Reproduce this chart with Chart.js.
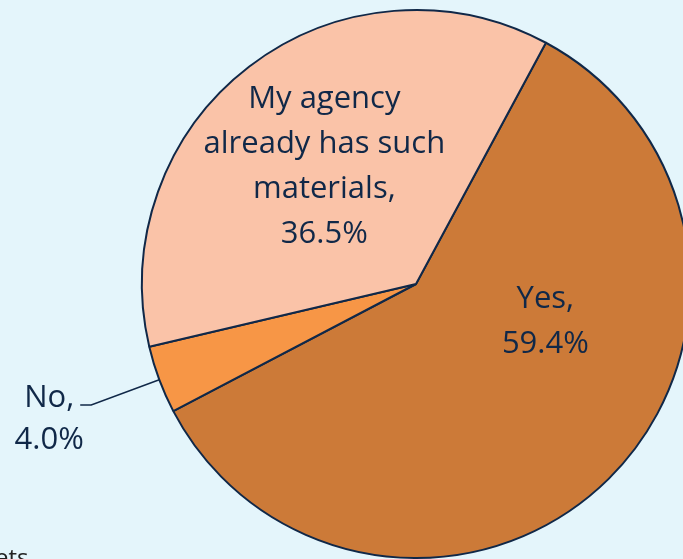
<!DOCTYPE html>
<html>
<head>
<meta charset="utf-8">
<script src="https://cdn.jsdelivr.net/npm/chart.js@4"></script>
<style>
    body {
        margin: 0;
        width: 683px;
        height: 559px;
        overflow: hidden;
        background: #e4f5fb;
        position: relative;
        font-family: 'Open Sans', sans-serif;
    }

    #pie-box {
        position: absolute;
        left: 0;
        top: 0;
        width: 691px;
        height: 559px;
    }

    #footnote {
        position: absolute;
        left: -5px;
        top: 540px;
        font-size: 24px;
        color: #222;
        white-space: nowrap;
    }
</style>
</head>
<body>
<div id="pie-box"><canvas id="pie" width="691" height="559"></canvas></div>
<div id="footnote">ets</div>

<script>
let categories = ['Yes', 'No', 'My agency already has such materials'];
let values = [59.4, 4.0, 36.5];
let labelLines = [['Yes,'], ['No,'], ['My agency', 'already has such', 'materials,']];
let sliceColors = ['#cc7a38', '#f79646', '#fac3a8'];

const navy = '#102848';
const labelFont = '31px "Open Sans"';
const lineGap = 45;
const capHeight = 22;

// where each slice label sits: angle shift from the slice middle (deg) and distance as part of the radius
let labelPlace = [
    { shift: -29.8, dist: 0.49 },
    { outside: true, elbow: 1.265 },
    { shift: 0, dist: 0.55 }
];

function drawLines(ctx, lines, cx, cy) {
    let first = cy + capHeight / 2 - (lines.length - 1) * lineGap / 2;
    for (let i = 0; i < lines.length; i++) {
        ctx.fillText(lines[i], cx, first + i * lineGap);
    }
}

const sliceLabels = {
    id: 'sliceLabels',
    afterDatasetsDraw(chart) {
        const ctx = chart.ctx;
        const arcs = chart.getDatasetMeta(0).data;
        ctx.save();
        ctx.font = labelFont;
        ctx.fillStyle = navy;
        ctx.strokeStyle = navy;
        ctx.textAlign = 'center';
        ctx.textBaseline = 'alphabetic';
        for (let i = 0; i < arcs.length; i++) {
            const arc = arcs[i];
            const place = labelPlace[i];
            const lines = labelLines[i].concat([values[i].toFixed(1) + '%']);
            const mid = (arc.startAngle + arc.endAngle) / 2;
            if (place.outside) {
                // leader line from the rim out to an elbow, then a short flat run
                const ex = arc.x + Math.cos(mid) * arc.outerRadius;
                const ey = arc.y + Math.sin(mid) * arc.outerRadius;
                const bx = arc.x + Math.cos(mid) * arc.outerRadius * place.elbow;
                const by = arc.y + Math.sin(mid) * arc.outerRadius * place.elbow;
                ctx.lineWidth = 1.5;
                ctx.beginPath();
                ctx.moveTo(ex, ey);
                ctx.lineTo(bx, by);
                ctx.lineTo(bx - 11, by);
                ctx.stroke();
                ctx.fillText(lines[0], bx - 42, by + 2);
                ctx.fillText(lines[1], bx - 42, by + 2 + 42);
            } else {
                const a = mid + place.shift * Math.PI / 180;
                const cx = arc.x + Math.cos(a) * arc.outerRadius * place.dist;
                const cy = arc.y + Math.sin(a) * arc.outerRadius * place.dist;
                drawLines(ctx, lines, cx, cy);
            }
        }
        ctx.restore();
    }
};

// padding keeps the pie on the right; it runs off the right and bottom edges of the page
new Chart(document.getElementById('pie'), {
    type: 'pie',
    data: {
        labels: categories,
        datasets: [{
            data: values,
            backgroundColor: sliceColors,
            borderColor: navy,
            borderWidth: 2
        }]
    },
    options: {
        responsive: false,
        animation: false,
        rotation: 28.3,
        layout: { padding: { left: 141, top: 9, right: 0, bottom: 0 } },
        plugins: {
            legend: { display: false },
            tooltip: { enabled: false }
        }
    },
    plugins: [sliceLabels]
});
</script>
</body>
</html>
